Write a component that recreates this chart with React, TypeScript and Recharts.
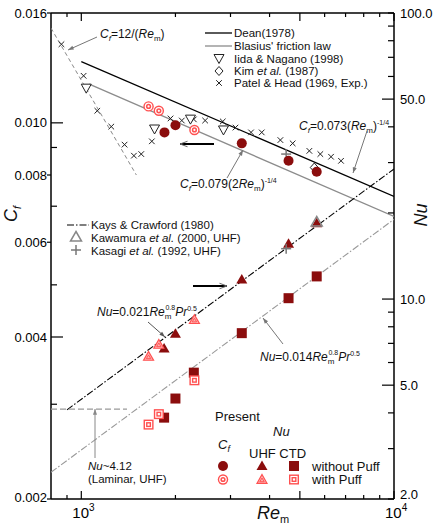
import React from "react";
import { ScatterChart, Scatter, XAxis, YAxis } from "recharts";

const FONT = '"Liberation Sans", Arial, Helvetica, sans-serif';
const DARK = "#8b0d0d";
const LIGHT = "#ff5050";
const GREY = "#8c8c8c";

// axis ticks
const xTicks = [900, 1000, 2000, 3000, 4000, 5000, 6000, 7000, 8000, 9000, 10000];
const xMajor = [1000, 5000, 10000];
const cfTicks = [0.002, 0.003, 0.004, 0.005, 0.006, 0.007, 0.008, 0.009, 0.01, 0.016];
const cfLabeled = [0.002, 0.004, 0.006, 0.008, 0.01, 0.016];
const nuTicks = [2, 3, 4, 5, 6, 7, 8, 9, 10, 20, 30, 40, 50, 60, 70, 80, 90, 100];
const nuLabeled = [2, 5, 10, 50, 100];

// correlation lines (end points)
const deanRe = [1000, 10000];
const deanCf = [0.013, 0.0073];
const blasiusRe = [1060, 10000];
const blasiusCf = [0.0118, 0.0067];
const lamCfRe = [800, 1500];
const lamCf = [0.015, 0.008];
const kaysRe = [900, 10000];
const kaysNu = [4.1, 28.5];
const nu014Re = [800, 10000];
const nu014Nu = [2.48, 19.0];
const lamNuRe = [800, 1400];
const lamNu = [4.12, 4.12];

// literature data
const patelRe = [864, 1017, 1125, 1247, 1375, 1473, 1555, 1681, 1929, 2096, 2290, 2489, 2834, 3112, 3490, 3776, 4332, 4742, 5362, 5813, 6290, 6770];
const patelCf = [0.014, 0.01223, 0.01053, 0.00984, 0.00911, 0.00869, 0.00875, 0.00924, 0.01019, 0.0101, 0.01015, 0.0101, 0.01006, 0.0098, 0.0096, 0.0096, 0.00929, 0.00916, 0.00887, 0.00875, 0.00865, 0.0085];
const iidaRe = [1037, 1715, 2234, 2849];
const iidaCf = [0.0116, 0.00974, 0.01016, 0.0097];
const kimRe = [5560];
const kimCf = [0.00826];
const kasagiRe = [4520];
const kasagiCf = [0.00875];
const kasagiNu = [15.0];
const kawamuraRe = [5660];
const kawamuraNu = [18.6];

// present results
const cfNoPuffRe = [1845, 2000, 3260, 4600, 5660];
const cfNoPuff = [0.0096, 0.0099, 0.00916, 0.0085, 0.00811];
const cfPuffRe = [1641, 1770, 2300];
const cfPuff = [0.01073, 0.01053, 0.0097];
const uhfNoPuffRe = [1840, 2000, 3260, 4600, 5660];
const uhfNoPuff = [6.71, 7.57, 11.7, 15.6, 18.4];
const uhfPuffRe = [1641, 1770, 2300];
const uhfPuff = [6.3, 6.94, 8.47];
const ctdNoPuffRe = [1840, 2000, 2290, 3260, 4600, 5660];
const ctdNoPuff = [3.85, 4.49, 5.53, 7.6, 10.07, 12.0];
const ctdPuffRe = [1641, 1770, 2300];
const ctdPuff = [3.64, 3.96, 5.2];

const zip = (xs: number[], ys: number[]) => xs.map((x, i) => ({ x, y: ys[i] }));

// marker shapes
const Dot = ({ cx, cy }: any) => <circle cx={cx} cy={cy} r={5} fill={DARK} />;
const RingDot = ({ cx, cy }: any) => (
  <g>
    <circle cx={cx} cy={cy} r={5.2} fill={LIGHT} />
    <circle cx={cx} cy={cy} r={3.8} fill="#fff" />
    <circle cx={cx} cy={cy} r={2.6} fill={LIGHT} />
    <circle cx={cx} cy={cy} r={1.1} fill="#fff" />
  </g>
);
const Tri = ({ cx, cy }: any) => (
  <polygon points={`${cx},${cy - 5.5} ${cx + 5.5},${cy + 4} ${cx - 5.5},${cy + 4}`} fill={DARK} />
);
const HatchTri = ({ cx, cy }: any) => (
  <g>
    <polygon points={`${cx},${cy - 5} ${cx + 5},${cy + 3.8} ${cx - 5},${cy + 3.8}`} fill="#ffb0b0" stroke={LIGHT} strokeWidth={1.2} />
    <polygon points={`${cx},${cy - 1.5} ${cx + 2.2},${cy + 2.2} ${cx - 2.2},${cy + 2.2}`} fill="none" stroke={LIGHT} strokeWidth={0.9} />
  </g>
);
const Sq = ({ cx, cy }: any) => <rect x={cx - 5} y={cy - 5} width={10} height={10} fill={DARK} />;
const RingSq = ({ cx, cy }: any) => (
  <g>
    <rect x={cx - 5} y={cy - 5} width={10} height={10} fill={LIGHT} />
    <rect x={cx - 3.6} y={cy - 3.6} width={7.2} height={7.2} fill="#fff" />
    <rect x={cx - 2.5} y={cy - 2.5} width={5} height={5} fill={LIGHT} />
    <rect x={cx - 1.1} y={cy - 1.1} width={2.2} height={2.2} fill="#fff" />
  </g>
);
const DownTri = ({ cx, cy }: any) => (
  <polygon points={`${cx - 5},${cy - 4} ${cx + 5},${cy - 4} ${cx},${cy + 5}`} fill="#fff" stroke="#222" strokeWidth={1} />
);
const Diamond = ({ cx, cy }: any) => (
  <polygon points={`${cx},${cy - 4.5} ${cx + 4},${cy} ${cx},${cy + 4.5} ${cx - 4},${cy}`} fill="#fff" stroke="#222" strokeWidth={1} />
);
const Cross = ({ cx, cy }: any) => (
  <g stroke="#222" strokeWidth={1}>
    <line x1={cx - 2.8} y1={cy - 2.8} x2={cx + 2.8} y2={cy + 2.8} />
    <line x1={cx - 2.8} y1={cy + 2.8} x2={cx + 2.8} y2={cy - 2.8} />
  </g>
);
const OpenTri = ({ cx, cy }: any) => (
  <polygon points={`${cx},${cy - 5.5} ${cx + 5.5},${cy + 4} ${cx - 5.5},${cy + 4}`} fill="none" stroke="#888" strokeWidth={1.5} />
);
const Plus = ({ cx, cy }: any) => (
  <g stroke="#777" strokeWidth={1.5}>
    <line x1={cx - 5} y1={cy} x2={cx + 5} y2={cy} />
    <line x1={cx} y1={cy - 5} x2={cx} y2={cy + 5} />
  </g>
);
const NoShape = () => <g />;

// ticks
const BottomTick = ({ x, y, payload }: any) => {
  const v = payload.value;
  const len = xMajor.includes(v) ? 8 : 4;
  const exp = v === 1000 ? "3" : v === 10000 ? "4" : null;
  return (
    <g>
      <line x1={x} y1={y} x2={x} y2={y - len} stroke="#000" strokeWidth={1.2} />
      {exp && (
        <text x={x - 9} y={y + 19} fontSize={15} fill="#000" fontFamily={FONT}>
          10<tspan fontSize={10} dy={-7}>{exp}</tspan>
        </text>
      )}
    </g>
  );
};
const TopTick = ({ x, y, payload }: any) => {
  const len = xMajor.includes(payload.value) ? 8 : 4;
  return <line x1={x} y1={y} x2={x} y2={y + len} stroke="#000" strokeWidth={1.2} />;
};
const LeftTick = ({ x, y, payload }: any) => {
  const v = payload.value;
  const long = v === 0.01 || v === 0.004;
  const labeled = cfLabeled.includes(v);
  return (
    <g>
      {labeled && !long ? (
        <line x1={x} y1={y} x2={x - 4} y2={y} stroke="#000" strokeWidth={1.2} />
      ) : (
        <line x1={x} y1={y} x2={x + (long ? 12 : 6)} y2={y} stroke="#000" strokeWidth={1.2} />
      )}
      {labeled && (
        <text x={x - 4} y={y + (v === 0.002 ? 3 : 4.5)} fontSize={13} textAnchor="end" fill="#000" fontFamily={FONT}>
          {v.toFixed(3)}
        </text>
      )}
    </g>
  );
};
const RightTick = ({ x, y, payload }: any) => {
  const v = payload.value;
  const long = v === 5 || v === 10 || v === 50;
  return (
    <g>
      <line x1={x} y1={y} x2={x - (long ? 12 : 6)} y2={y} stroke="#000" strokeWidth={1.2} />
      {nuLabeled.includes(v) && (
        <text x={x + 6} y={y + (v === 2 ? 0 : 4.5)} fontSize={13} fill="#000" fontFamily={FONT}>
          {v.toFixed(1)}
        </text>
      )}
    </g>
  );
};

const Arrow = ({ x1, y1, x2, y2, color = "#777", w = 1, head = 6, open = false, headColor }: any) => {
  const a = Math.atan2(y2 - y1, x2 - x1);
  const h1 = `${x2 - head * Math.cos(a - 0.35)},${y2 - head * Math.sin(a - 0.35)}`;
  const h2 = `${x2 - head * Math.cos(a + 0.35)},${y2 - head * Math.sin(a + 0.35)}`;
  return (
    <g>
      <line x1={x1} y1={y1} x2={x2} y2={y2} stroke={color} strokeWidth={w} />
      {open ? (
        <polyline points={`${h1} ${x2},${y2} ${h2}`} fill="none" stroke={headColor || color} strokeWidth={1} />
      ) : (
        <polygon points={`${h1} ${x2},${y2} ${h2}`} fill={color} />
      )}
    </g>
  );
};

const axisStyle = { stroke: "#000", strokeWidth: 1.5 };

export default function App() {
  return (
    <div style={{ position: "absolute", left: 0, top: 0, width: 434, height: 529, background: "#fff", fontFamily: FONT }}>
      <ScatterChart width={434} height={529} margin={{ top: 0, right: 0, bottom: 0, left: 0 }}>
        <XAxis xAxisId="b" type="number" dataKey="x" scale="log" domain={[800, 10000]} allowDataOverflow ticks={xTicks} interval={0}
          tickSize={0} tickMargin={0} tickLine={false} height={30} axisLine={axisStyle} tick={(p: any) => <BottomTick {...p} />} />
        <XAxis xAxisId="t" orientation="top" type="number" dataKey="x" scale="log" domain={[800, 10000]} allowDataOverflow ticks={xTicks} interval={0}
          tickSize={0} tickMargin={0} tickLine={false} height={13} axisLine={axisStyle} tick={(p: any) => <TopTick {...p} />} />
        <YAxis yAxisId="cf" type="number" dataKey="y" scale="log" domain={[0.002, 0.016]} allowDataOverflow ticks={cfTicks} interval={0}
          tickSize={0} tickMargin={0} tickLine={false} width={51} axisLine={axisStyle} tick={(p: any) => <LeftTick {...p} />} />
        <YAxis yAxisId="nu" orientation="right" type="number" dataKey="y" scale="log" domain={[2, 100]} allowDataOverflow ticks={nuTicks} interval={0}
          tickSize={0} tickMargin={0} tickLine={false} width={40} axisLine={axisStyle} tick={(p: any) => <RightTick {...p} />} />

        {/* correlation lines */}
        <Scatter xAxisId="b" yAxisId="cf" data={zip(deanRe, deanCf)} shape={NoShape} isAnimationActive={false}
          line={{ stroke: "#000", strokeWidth: 1.3 }} />
        <Scatter xAxisId="b" yAxisId="cf" data={zip(blasiusRe, blasiusCf)} shape={NoShape} isAnimationActive={false}
          line={{ stroke: GREY, strokeWidth: 1.3 }} />
        <Scatter xAxisId="b" yAxisId="cf" data={zip(lamCfRe, lamCf)} shape={NoShape} isAnimationActive={false}
          line={{ stroke: "#888", strokeWidth: 1, strokeDasharray: "4 3" }} />
        <Scatter xAxisId="b" yAxisId="nu" data={zip(kaysRe, kaysNu)} shape={NoShape} isAnimationActive={false}
          line={{ stroke: "#000", strokeWidth: 1.1, strokeDasharray: "7 2 1.5 2" }} />
        <Scatter xAxisId="b" yAxisId="nu" data={zip(nu014Re, nu014Nu)} shape={NoShape} isAnimationActive={false}
          line={{ stroke: "#999", strokeWidth: 1.1, strokeDasharray: "7 2 1.5 2" }} />
        <Scatter xAxisId="b" yAxisId="nu" data={zip(lamNuRe, lamNu)} shape={NoShape} isAnimationActive={false}
          line={{ stroke: "#999", strokeWidth: 1.2, strokeDasharray: "6 3" }} />
        <Scatter xAxisId="t" yAxisId="cf" data={[]} shape={NoShape} isAnimationActive={false} />

        {/* literature */}
        <Scatter xAxisId="b" yAxisId="cf" data={zip(patelRe, patelCf)} shape={(p: any) => <Cross {...p} />} isAnimationActive={false} />
        <Scatter xAxisId="b" yAxisId="cf" data={zip(iidaRe, iidaCf)} shape={(p: any) => <DownTri {...p} />} isAnimationActive={false} />
        <Scatter xAxisId="b" yAxisId="cf" data={zip(kimRe, kimCf)} shape={(p: any) => <Diamond {...p} />} isAnimationActive={false} />
        <Scatter xAxisId="b" yAxisId="cf" data={zip(kasagiRe, kasagiCf)} shape={(p: any) => <Plus {...p} />} isAnimationActive={false} />

        {/* present */}
        <Scatter xAxisId="b" yAxisId="cf" data={zip(cfNoPuffRe, cfNoPuff)} shape={(p: any) => <Dot {...p} />} isAnimationActive={false} />
        <Scatter xAxisId="b" yAxisId="cf" data={zip(cfPuffRe, cfPuff)} shape={(p: any) => <RingDot {...p} />} isAnimationActive={false} />
        <Scatter xAxisId="b" yAxisId="nu" data={zip(uhfNoPuffRe, uhfNoPuff)} shape={(p: any) => <Tri {...p} />} isAnimationActive={false} />
        <Scatter xAxisId="b" yAxisId="nu" data={zip(uhfPuffRe, uhfPuff)} shape={(p: any) => <HatchTri {...p} />} isAnimationActive={false} />
        <Scatter xAxisId="b" yAxisId="nu" data={zip(ctdNoPuffRe, ctdNoPuff)} shape={(p: any) => <Sq {...p} />} isAnimationActive={false} />
        <Scatter xAxisId="b" yAxisId="nu" data={zip(ctdPuffRe, ctdPuff)} shape={(p: any) => <RingSq {...p} />} isAnimationActive={false} />
        <Scatter xAxisId="b" yAxisId="nu" data={zip(kawamuraRe, kawamuraNu)} shape={(p: any) => <OpenTri {...p} />} isAnimationActive={false} />
        <Scatter xAxisId="b" yAxisId="nu" data={zip(kasagiRe, kasagiNu)} shape={(p: any) => <Plus {...p} />} isAnimationActive={false} />
      </ScatterChart>

      <svg width={434} height={529} style={{ position: "absolute", left: 0, top: 0, pointerEvents: "none" }} fontFamily={FONT} fill="#111">
        {/* axis titles */}
        <text transform="translate(17,214) rotate(-90)" fontSize={18} textAnchor="middle">
          <tspan fontStyle="italic">C</tspan><tspan fontSize={11} fontStyle="italic" dy={4}>f</tspan>
        </text>
        <text transform="translate(427,215) rotate(-90)" fontSize={18} textAnchor="middle" fontStyle="italic">Nu</text>
        <text x={257} y={519} fontSize={18}>
          <tspan fontStyle="italic">Re</tspan><tspan fontSize={11} dy={4}>m</tspan>
        </text>

        {/* upper legend */}
        <line x1={205} y1={33} x2={232} y2={33} stroke="#000" strokeWidth={1.3} />
        <line x1={205} y1={46} x2={232} y2={46} stroke={GREY} strokeWidth={1.3} />
        <DownTri cx={219} cy={58.5} />
        <Diamond cx={219} cy={71} />
        <Cross cx={219} cy={83} />
        <g fontSize={11.5}>
          <text x={234} y={37}>Dean(1978)</text>
          <text x={234} y={50}>Blasius' friction law</text>
          <text x={234} y={62.5}>Iida &amp; Nagano (1998)</text>
          <text x={234} y={75}>Kim <tspan fontStyle="italic">et al.</tspan> (1987)</text>
          <text x={234} y={87}>Patel &amp; Head (1969, Exp.)</text>
        </g>

        {/* lower-left legend */}
        <line x1={67} y1={225} x2={89} y2={225} stroke="#000" strokeWidth={1.1} strokeDasharray="7 2 1.5 2" />
        <OpenTri cx={76} cy={237} />
        <Plus cx={76} cy={250} />
        <g fontSize={11.5}>
          <text x={91} y={229}>Kays &amp; Crawford (1980)</text>
          <text x={91} y={241.5}>Kawamura <tspan fontStyle="italic">et al.</tspan> (2000, UHF)</text>
          <text x={91} y={254.5}>Kasagi <tspan fontStyle="italic">et al.</tspan> (1992, UHF)</text>
        </g>

        {/* annotations */}
        <g fontSize={12}>
          <text x={100} y={38}>
            <tspan fontStyle="italic">C</tspan><tspan fontSize={8} fontStyle="italic" dy={3}>f</tspan>
            <tspan dy={-3}>=12/(</tspan><tspan fontStyle="italic">Re</tspan><tspan fontSize={8} dy={3}>m</tspan><tspan dy={-3}>)</tspan>
          </text>
          <text x={299} y={130}>
            <tspan fontStyle="italic">C</tspan><tspan fontSize={8} fontStyle="italic" dy={3}>f</tspan>
            <tspan dy={-3}>=0.073(</tspan><tspan fontStyle="italic">Re</tspan><tspan fontSize={8} dy={3}>m</tspan><tspan dy={-3}>)</tspan>
            <tspan fontSize={7} dy={-5}>-1/4</tspan>
          </text>
          <text x={180} y={188}>
            <tspan fontStyle="italic">C</tspan><tspan fontSize={8} fontStyle="italic" dy={3}>f</tspan>
            <tspan dy={-3}>=0.079(2</tspan><tspan fontStyle="italic">Re</tspan><tspan fontSize={8} dy={3}>m</tspan><tspan dy={-3}>)</tspan>
            <tspan fontSize={7} dy={-5}>-1/4</tspan>
          </text>
          <text x={97} y={316}>
            <tspan fontStyle="italic">Nu</tspan><tspan>=0.021</tspan><tspan fontStyle="italic">Re</tspan>
            <tspan fontSize={8} dy={3}>m</tspan><tspan fontSize={7} dx={-6} dy={-9}>0.8</tspan>
            <tspan fontStyle="italic" dy={6}>Pr</tspan><tspan fontSize={7} dy={-5}>0.5</tspan>
          </text>
          <text x={260} y={361}>
            <tspan fontStyle="italic">Nu</tspan><tspan>=0.014</tspan><tspan fontStyle="italic">Re</tspan>
            <tspan fontSize={8} dy={3}>m</tspan><tspan fontSize={7} dx={-6} dy={-9}>0.8</tspan>
            <tspan fontStyle="italic" dy={6}>Pr</tspan><tspan fontSize={7} dy={-5}>0.5</tspan>
          </text>
        </g>
        <g fontSize={11.5}>
          <text x={88} y={470}>
            <tspan fontStyle="italic">Nu</tspan><tspan>~4.12</tspan>
          </text>
          <text x={88} y={483}>(Laminar, UHF)</text>
        </g>
        <Arrow x1={97} y1={37} x2={68} y2={50} color="#777" />
        <Arrow x1={367} y1={131} x2={353} y2={173} color="#777" />
        <Arrow x1={227} y1={178} x2={243} y2={150} color="#777" />
        <Arrow x1={148} y1={322} x2={165} y2={337} color="#555" />
        <Arrow x1={283} y1={344} x2={263} y2={318} color="#777" />
        <Arrow x1={95} y1={458} x2={95} y2={409} color="#888" />
        <Arrow x1={214} y1={144} x2={180} y2={144} color="#000" w={2} head={8} open headColor="#666" />
        <Arrow x1={193} y1={286} x2={227} y2={286} color="#000" w={2} head={8} open headColor="#666" />

        {/* present legend */}
        <g fontSize={13}>
          <text x={215} y={421}>Present</text>
          <text x={273} y={436} fontStyle="italic">Nu</text>
          <text x={218} y={449}>
            <tspan fontStyle="italic">C</tspan><tspan fontSize={9} fontStyle="italic" dy={3}>f</tspan>
          </text>
          <text x={249} y={458}>UHF CTD</text>
          <text x={312} y={470.5}>without Puff</text>
          <text x={312} y={484}>with Puff</text>
        </g>
        <Dot cx={223} cy={466} />
        <Tri cx={262} cy={466} />
        <Sq cx={294} cy={466} />
        <RingDot cx={223} cy={479.5} />
        <HatchTri cx={262} cy={479.5} />
        <RingSq cx={294} cy={479.5} />
      </svg>
    </div>
  );
}
